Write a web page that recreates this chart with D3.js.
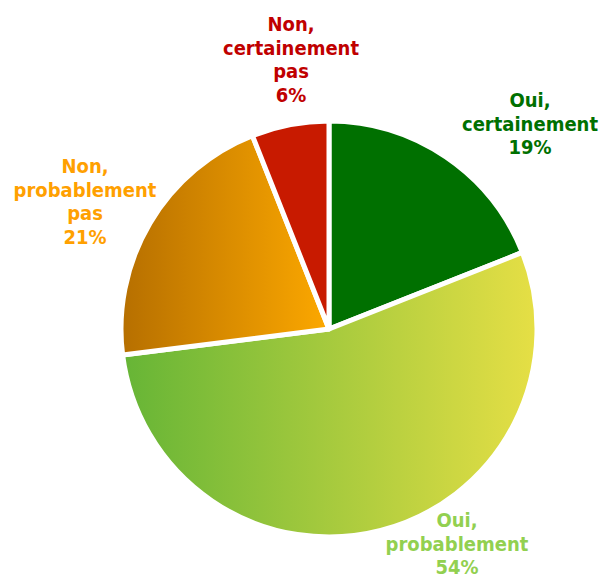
<!DOCTYPE html>
<html>
<head>
<meta charset="utf-8">
<script src="https://cdn.jsdelivr.net/npm/d3@7"></script>
<style>
  html, body { margin: 0; padding: 0; background: #fff; }
  svg { display: block; }
  text { font-family: "DejaVu Sans Condensed", "DejaVu Sans", sans-serif; font-weight: bold; }
</style>
</head>
<body>
<div id="chart"></div>
<script>
// Survey answers, clockwise from 12 o'clock
const categories = ["Oui, certainement", "Oui, probablement", "Non, probablement pas", "Non, certainement pas"];
const values = [19, 54, 21, 6];
const labelLines = [
  ["Oui,", "certainement", "19%"],
  ["Oui,", "probablement", "54%"],
  ["Non,", "probablement", "pas", "21%"],
  ["Non,", "certainement", "pas", "6%"]
];

const width = 601, height = 579;
const cx = 329, cy = 329, radius = 208;

// Fill per slice: solid colour, or a left→right gradient
const fills = [
  { solid: "#007000" },
  { from: "#66b536", to: "#e6df45" },
  { from: "#b66f00", to: "#fca800" },
  { solid: "#c81a00" }
];
const labelColors = ["#007000", "#92d050", "#ffa000", "#c00000"];
// Label anchor: centre x and baseline of the first line
const labelPos = [
  { x: 530, y: 107 },
  { x: 457, y: 527 },
  { x: 85, y: 173 },
  { x: 291, y: 31 }
];

const svg = d3.select("#chart").append("svg")
  .attr("width", width).attr("height", height);

const defs = svg.append("defs");
fills.forEach((f, i) => {
  if (f.solid) return;
  const g = defs.append("linearGradient")
    .attr("id", "grad" + i)
    .attr("x1", "0%").attr("y1", "0%").attr("x2", "100%").attr("y2", "0%");
  g.append("stop").attr("offset", "0%").attr("stop-color", f.from);
  g.append("stop").attr("offset", "100%").attr("stop-color", f.to);
});

const pie = d3.pie().sort(null).value(d => d);
const arc = d3.arc().innerRadius(0).outerRadius(radius);

const g = svg.append("g").attr("transform", `translate(${cx},${cy})`);

g.selectAll("path")
  .data(pie(values))
  .join("path")
  .attr("d", arc)
  .attr("fill", (d, i) => fills[i].solid || `url(#grad${i})`)
  .attr("stroke", "#fff")
  .attr("stroke-width", 5)
  .attr("stroke-linejoin", "round");

const lineH = 23.5;
labelLines.forEach((lines, i) => {
  const t = svg.append("text")
    .attr("text-anchor", "middle")
    .attr("fill", labelColors[i])
    .attr("font-size", 20);
  lines.forEach((ln, j) => {
    t.append("tspan")
      .attr("x", labelPos[i].x)
      .attr("y", labelPos[i].y + j * lineH)
      .text(ln);
  });
});
</script>
</body>
</html>
